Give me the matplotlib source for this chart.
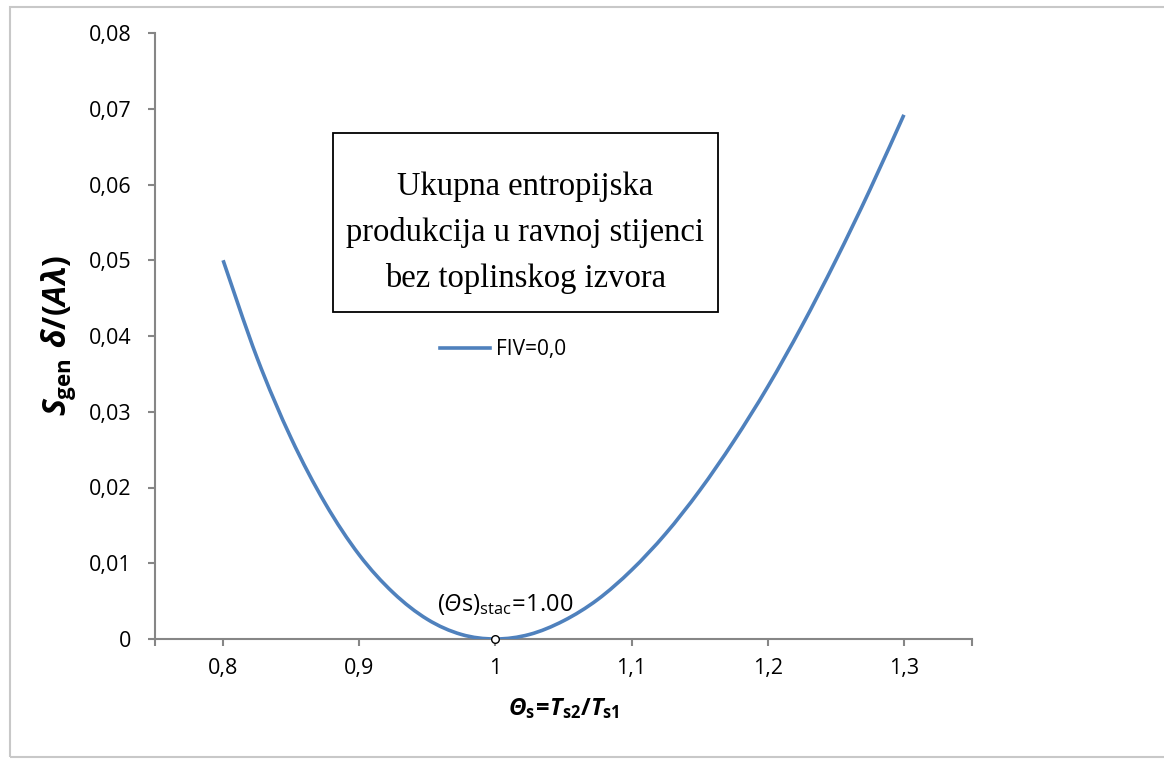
import matplotlib
matplotlib.use("Agg")
import matplotlib.pyplot as plt
from matplotlib.patches import Rectangle, PathPatch
from matplotlib.path import Path
from matplotlib.lines import Line2D

# ---- data ----
theta = [0.800, 0.825, 0.850, 0.875, 0.900, 0.925, 0.950, 0.975, 1.000,
         1.025, 1.050, 1.075, 1.100, 1.125, 1.150, 1.175, 1.200, 1.225,
         1.250, 1.275, 1.300]
sgen = [0.0500, 0.0371, 0.0265, 0.0179, 0.0111, 0.0061, 0.0026, 0.0006, 0.0000,
        0.0006, 0.0024, 0.0052, 0.0091, 0.0139, 0.0196, 0.0261, 0.0333, 0.0413,
        0.0500, 0.0593, 0.0692]
stac_point = (1.00, 0.0)
x_ticks = [0.8, 0.9, 1.0, 1.1, 1.2, 1.3]
x_ticklabels = ["0,8", "0,9", "1", "1,1", "1,2", "1,3"]
y_ticks = [0, 0.01, 0.02, 0.03, 0.04, 0.05, 0.06, 0.07, 0.08]
y_ticklabels = ["0", "0,01", "0,02", "0,03", "0,04", "0,05", "0,06", "0,07", "0,08"]
series_label = "FIV=0,0"
box_text = "Ukupna entropijska\nprodukcija u ravnoj stijenci\nbez toplinskog izvora"

plt.rcParams['font.family'] = ['Open Sans', 'DejaVu Sans']
plt.rcParams['mathtext.fontset'] = 'custom'
plt.rcParams['mathtext.rm'] = 'Open Sans'
plt.rcParams['mathtext.bf'] = 'Open Sans:bold'
plt.rcParams['mathtext.it'] = 'Open Sans:italic:bold'
plt.rcParams['mathtext.sf'] = 'Open Sans:italic'
plt.rcParams['mathtext.cal'] = 'Open Sans:italic:bold'

fig = plt.figure(figsize=(11.64, 7.60), dpi=100)
W, H = 1164, 760
line_color = '#4F81BD'

# outer chart frame
fig.patches.append(Rectangle((10 / W, 1 - 757 / H), (1200 - 10) / W, (757 - 7) / H,
                             transform=fig.transFigure, fill=False,
                             edgecolor='#c8c8c8', linewidth=1.5))

ax = fig.add_axes([155 / W, 1 - 639 / H, (972 - 155) / W, (639 - 33) / H])
axis_color = '#868686'

# smoothed line through the data points (Catmull-Rom drawn as cubic Bezier, like Excel's smoothing)
verts = [(theta[0], sgen[0])]
codes = [Path.MOVETO]
n = len(theta)
for i in range(n - 1):
    p0 = (theta[max(i - 1, 0)], sgen[max(i - 1, 0)])
    p1 = (theta[i], sgen[i])
    p2 = (theta[i + 1], sgen[i + 1])
    p3 = (theta[min(i + 2, n - 1)], sgen[min(i + 2, n - 1)])
    c1 = (p1[0] + (p2[0] - p0[0]) / 6, p1[1] + (p2[1] - p0[1]) / 6)
    c2 = (p2[0] - (p3[0] - p1[0]) / 6, p2[1] - (p3[1] - p1[1]) / 6)
    verts += [c1, c2, p2]
    codes += [Path.CURVE4] * 3
ax.add_patch(PathPatch(Path(verts, codes), fill=False, edgecolor=line_color,
                       linewidth=2.6, capstyle='butt', joinstyle='round', zorder=3))

ax.plot([stac_point[0]], [stac_point[1]], 'o', markersize=5.5,
        markerfacecolor='white', markeredgecolor='black', markeredgewidth=1.0,
        zorder=5, clip_on=False)

ax.set_xlim(0.75, 1.35)
ax.set_ylim(0, 0.08)
ax.set_xticks(x_ticks + [0.75, 1.35])
ax.set_xticklabels(x_ticklabels + ["", ""])
ax.set_yticks(y_ticks)
ax.set_yticklabels(y_ticklabels)

for s in ['top', 'right']:
    ax.spines[s].set_visible(False)
for s in ['left', 'bottom']:
    ax.spines[s].set_color(axis_color)
    ax.spines[s].set_linewidth(1.5)
ax.tick_params(axis='both', direction='out', length=5, width=1.5, color=axis_color,
               labelsize=15.5, labelcolor='black')
ax.tick_params(axis='x', pad=9)
ax.tick_params(axis='y', pad=12)

ax.set_xlabel(r'$\mathcal{\Theta}_{\mathbf{s}}\!\mathbf{=}\!T_{\mathbf{s2}}\mathbf{/}T_{\mathbf{s1}}$',
              fontsize=17, labelpad=12)
ax.set_ylabel(r'$S_{\mathbf{gen}}\ \delta\mathbf{/(}A\lambda\mathbf{)}$',
              fontsize=23, labelpad=8)

# annotation of the stationary point
ax.text(1.007, 0.0029, r'$\mathrm{(}\mathsf{\Theta}\mathrm{s)_{stac}\!=\!1.00}$', fontsize=17,
        ha='center', va='bottom', zorder=6)

# legend
handle = Line2D([], [], color=line_color, linewidth=2.6)
ax.legend([handle], [series_label], loc='center left',
          bbox_to_anchor=(440 / W, 1 - 350 / H),
          bbox_transform=fig.transFigure, frameon=False, fontsize=15,
          handlelength=2.4, handletextpad=0.3, borderpad=0, borderaxespad=0)

# text box
bx0, by0, bx1, by1 = 333, 133, 718, 312
fig.patches.append(Rectangle((bx0 / W, 1 - by1 / H), (bx1 - bx0) / W, (by1 - by0) / H,
                             transform=fig.transFigure, fill=True, facecolor='white',
                             edgecolor='black', linewidth=1.3, zorder=10))
fig.text((bx0 + bx1) / 2 / W, 1 - 233 / H, box_text, family='Liberation Serif',
         fontsize=23.5, ha='center', va='center', linespacing=1.62, zorder=11)

fig.savefig('out.png', dpi=100)
